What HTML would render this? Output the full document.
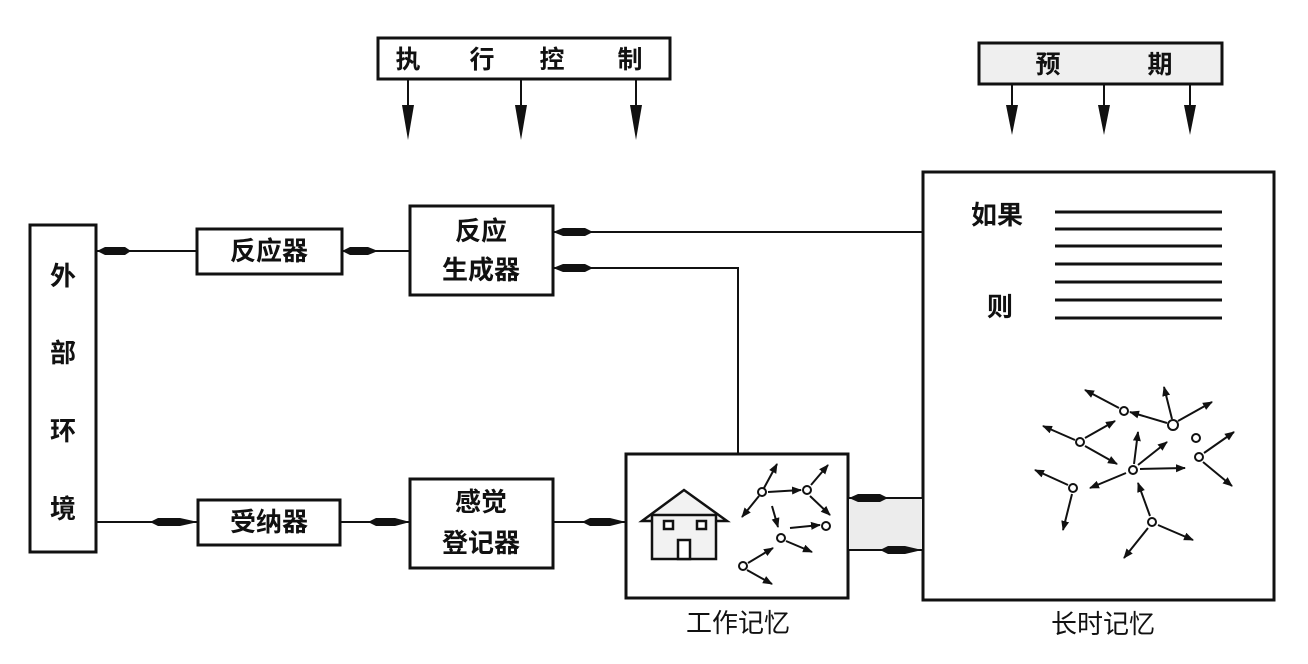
<!DOCTYPE html>
<html><head><meta charset="utf-8"><style>
html,body{margin:0;padding:0;background:#fff;}
svg{display:block;}
text{font-family:"Liberation Sans","Noto Sans CJK SC",sans-serif;fill:#111;}
</style></head><body>
<svg width="1308" height="664" viewBox="0 0 1308 664" xmlns="http://www.w3.org/2000/svg">
<defs>
<marker id="a" viewBox="0 0 10 10" refX="9" refY="5" markerWidth="5" markerHeight="5" orient="auto"><path d="M0,1 L10,5 L0,9 z" fill="#111"/></marker>
</defs>
<g stroke="#111" fill="none" stroke-width="3">
<rect x="378" y="38" width="292" height="41" fill="#fff"/>
<rect x="979" y="43" width="243" height="41" fill="#efefef"/>
<rect x="30" y="225" width="66" height="327"/>
<rect x="197" y="229" width="145" height="45"/>
<rect x="410" y="206" width="143" height="89"/>
<rect x="198" y="500" width="142" height="45"/>
<rect x="410" y="479" width="143" height="89"/>
<rect x="626" y="454" width="222" height="144"/>
<rect x="923" y="172" width="351" height="428"/>
<rect x="849" y="499" width="73" height="51" fill="#ececec" stroke="none"/>
</g>
<g stroke="#111" stroke-width="2" fill="none">
<line x1="96" y1="251" x2="197" y2="251"/>
<line x1="342" y1="251" x2="410" y2="251"/>
<line x1="553" y1="232" x2="923" y2="232"/>
<polyline points="553,268 738,268 738,454"/>
<line x1="96" y1="522" x2="198" y2="522"/>
<line x1="340" y1="522" x2="410" y2="522"/>
<line x1="553" y1="522" x2="626" y2="522"/>
<line x1="848" y1="498" x2="923" y2="498"/>
<line x1="848" y1="550" x2="923" y2="550"/>
<line x1="408" y1="79" x2="408" y2="112"/><line x1="521" y1="79" x2="521" y2="112"/><line x1="636" y1="79" x2="636" y2="112"/>
<line x1="1012" y1="84" x2="1012" y2="110"/><line x1="1104" y1="84" x2="1104" y2="110"/><line x1="1190" y1="84" x2="1190" y2="110"/>
</g>
<g fill="#111">
<path d="M402,105 L414,105 L408,140 z"/><path d="M515,105 L527,105 L521,140 z"/><path d="M630,105 L642,105 L636,140 z"/>
<path d="M1006,105 L1018,105 L1012,135 z"/><path d="M1098,105 L1110,105 L1104,135 z"/><path d="M1184,105 L1196,105 L1190,135 z"/>
<path d="M97,251 L105,247 L125,247 L131,251 L125,255 L105,255 z"/>
<path d="M342,251 L350,247 L368,247 L378,251 L368,255 L350,255 z"/>
<path d="M553,232 L563,228 L585,228 L593,232 L585,236 L563,236 z"/>
<path d="M553,268 L563,264 L585,264 L593,268 L585,272 L563,272 z"/>
<path d="M150,522 L158,518 L180,518 L198,522 L180,526 L158,526 z"/>
<path d="M368,522 L376,518 L395,518 L410,522 L395,526 L376,526 z"/>
<path d="M582,522 L590,518 L610,518 L626,522 L610,526 L590,526 z"/>
<path d="M849,498 L858,494 L880,494 L888,498 L880,502 L858,502 z"/>
<path d="M880,550 L888,546 L905,546 L922,550 L905,554 L888,554 z"/>
</g>
<g stroke="#111" stroke-width="3">
<line x1="1055" y1="212" x2="1222" y2="212"/><line x1="1055" y1="229" x2="1222" y2="229"/>
<line x1="1055" y1="246" x2="1222" y2="246"/><line x1="1055" y1="264" x2="1222" y2="264"/>
<line x1="1055" y1="282" x2="1222" y2="282"/><line x1="1055" y1="300" x2="1222" y2="300"/>
<line x1="1055" y1="318" x2="1222" y2="318"/>
</g>
<g stroke="#111" stroke-width="2.5" fill="#f2f2f2">
<path d="M642,521 L684,490 L727,521 Z"/>
<rect x="652" y="515" width="64" height="44"/>
<rect x="664" y="521" width="9" height="8" fill="#fff"/>
<rect x="697" y="521" width="9" height="8" fill="#fff"/>
<rect x="678" y="540" width="12" height="19" fill="#fff"/>
</g>
<g stroke="#111" stroke-width="2" marker-end="url(#a)">
<line x1="764" y1="488" x2="777" y2="464"/><line x1="759" y1="496" x2="742" y2="517"/>
<line x1="768" y1="492" x2="801" y2="490"/><line x1="811" y1="485" x2="828" y2="465"/>
<line x1="810" y1="496" x2="830" y2="515"/><line x1="772" y1="506" x2="778" y2="527"/>
<line x1="790" y1="528" x2="820" y2="525"/><line x1="786" y1="541" x2="812" y2="552"/>
<line x1="748" y1="563" x2="773" y2="548"/><line x1="747" y1="570" x2="772" y2="584"/>
<line x1="1119" y1="408" x2="1085" y2="390"/><line x1="1167" y1="423" x2="1130" y2="412"/>
<line x1="1172" y1="419" x2="1164" y2="387"/><line x1="1178" y1="421" x2="1212" y2="402"/>
<line x1="1075" y1="440" x2="1043" y2="426"/><line x1="1085" y1="438" x2="1115" y2="421"/>
<line x1="1085" y1="446" x2="1117" y2="464"/><line x1="1134" y1="464" x2="1138" y2="432"/>
<line x1="1138" y1="465" x2="1167" y2="442"/><line x1="1140" y1="469" x2="1185" y2="468"/>
<line x1="1126" y1="473" x2="1090" y2="488"/><line x1="1068" y1="485" x2="1035" y2="470"/>
<line x1="1072" y1="494" x2="1063" y2="530"/><line x1="1150" y1="516" x2="1138" y2="483"/>
<line x1="1158" y1="525" x2="1193" y2="540"/><line x1="1148" y1="528" x2="1124" y2="558"/>
<line x1="1204" y1="453" x2="1234" y2="432"/><line x1="1203" y1="462" x2="1232" y2="486"/>
</g>
<g stroke="#111" stroke-width="2" fill="#fff">
<circle cx="762" cy="492" r="4"/><circle cx="807" cy="490" r="4"/><circle cx="826" cy="526" r="4"/>
<circle cx="781" cy="538" r="4"/><circle cx="743" cy="566" r="4"/>
<circle cx="1124" cy="411" r="4"/><circle cx="1173" cy="425" r="5"/><circle cx="1196" cy="438" r="4"/>
<circle cx="1199" cy="457" r="4"/><circle cx="1080" cy="442" r="4"/><circle cx="1133" cy="470" r="4"/>
<circle cx="1073" cy="488" r="4"/><circle cx="1152" cy="522" r="4"/>
</g>
<g font-size="26" text-anchor="middle" font-weight="bold">
<text x="408" y="68" font-size="25">执</text>
<text x="482" y="68" font-size="25">行</text>
<text x="552" y="68" font-size="25">控</text>
<text x="630" y="68" font-size="25">制</text>
<text x="1048" y="73" font-size="25">预</text>
<text x="1160" y="73" font-size="25">期</text>
<text x="63" y="285">外</text>
<text x="63" y="362">部</text>
<text x="63" y="440">环</text>
<text x="63" y="518">境</text>
<text x="269" y="260">反应器</text>
<text x="481" y="240">反应</text>
<text x="481" y="279">生成器</text>
<text x="269" y="531">受纳器</text>
<text x="481" y="511">感觉</text>
<text x="481" y="552">登记器</text>
<text x="738" y="632" font-weight="normal">工作记忆</text>
<text x="1103" y="633" font-weight="normal">长时记忆</text>
<text x="997" y="224">如果</text>
<text x="1000" y="316">则</text>
</g>
</svg>
</body></html>
